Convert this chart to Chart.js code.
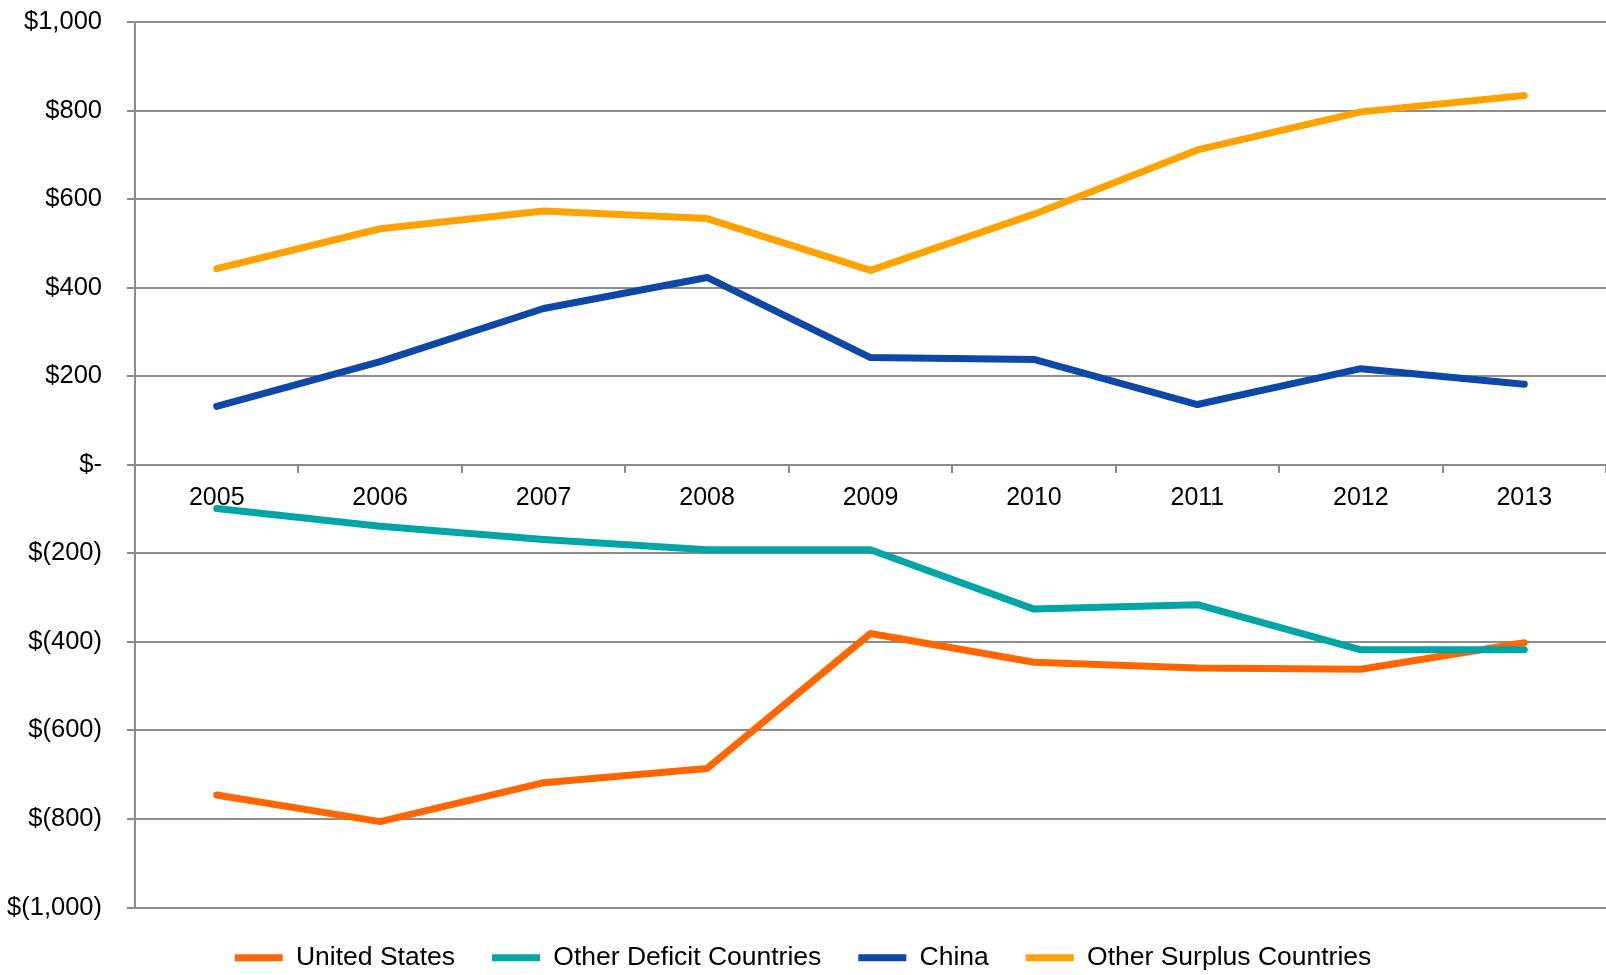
<!DOCTYPE html>
<html>
<head>
<meta charset="utf-8">
<script src="https://cdn.jsdelivr.net/npm/chart.js@4.4.1/dist/chart.umd.min.js"></script>
<style>
html,body{margin:0;padding:0;background:#fff;}
#wrap{width:1606px;height:975px;}
</style>
</head>
<body>
<div id="wrap"><canvas id="c" width="1606" height="975"></canvas></div>
<script>
const years = ['2005','2006','2007','2008','2009','2010','2011','2012','2013'];
const unitedStates = [-746, -806, -718, -686, -381, -446, -459, -462, -402];
const otherDeficit = [-99, -139, -169, -192, -192, -326, -316, -418, -418];
const china = [132, 233, 353, 423, 242, 238, 136, 217, 182];
const otherSurplus = [443, 533, 573, 556, 439, 566, 711, 797, 834];
const seriesNames = ['United States', 'Other Deficit Countries', 'China', 'Other Surplus Countries'];
const seriesColors = ['#FF6600', '#00A6A6', '#0D47A8', '#FFA200'];

function fmt(v){
  if (v === 0) return '$-';
  const s = Math.abs(v).toLocaleString('en-US');
  return v < 0 ? '$(' + s + ')' : '$' + s;
}

const FONT = "'Liberation Sans', Arial, sans-serif";
const mk = (i, data, order) => ({
  label: seriesNames[i], data, borderColor: seriesColors[i], backgroundColor: seriesColors[i],
  borderWidth: 7, pointRadius: 0, tension: 0, borderCapStyle: 'round', borderJoinStyle: 'round',
  fill: false, order, pointStyle: 'line'
});

new Chart(document.getElementById('c'), {
  type: 'line',
  data: {
    labels: years,
    datasets: [
      mk(0, unitedStates, 2),
      mk(1, otherDeficit, 1),
      mk(2, china, 3),
      mk(3, otherSurplus, 4)
    ]
  },
  options: {
    responsive: false,
    animation: false,
    devicePixelRatio: 1,
    layout: { padding: { top: 22, right: 0, left: 0, bottom: -6 } },
    plugins: {
      tooltip: { enabled: false },
      legend: {
        position: 'bottom',
        labels: {
          usePointStyle: true,
          pointStyle: 'line',
          pointStyleWidth: 48,
          padding: 37,
          color: '#000',
          font: { family: FONT, size: 26.5 },
          sort: (a, b) => a.datasetIndex - b.datasetIndex
        }
      }
    },
    scales: {
      x: {
        position: { y: 0 },
        offset: true,
        afterFit: (s) => { s.height = 0; s.paddingTop = 0; s.paddingBottom = 0; s.paddingLeft = 0; s.paddingRight = 0; },
        grid: { display: true, drawOnChartArea: false, drawTicks: true, tickLength: 8, offset: true, color: '#8c8c8c', lineWidth: 2 },
        border: { display: false },
        ticks: { color: '#000', font: { family: FONT, size: 25 }, padding: 10, maxRotation: 0 }
      },
      y: {
        min: -1000, max: 1000,
        afterFit: (s) => { s.width = 135; s.paddingTop = 0; s.paddingBottom = 0; },
        grid: { color: '#8c8c8c', lineWidth: 2, tickLength: 8 },
        border: { color: '#8c8c8c', width: 2 },
        ticks: { stepSize: 200, color: '#000', font: { family: FONT, size: 25.5 }, padding: 25, callback: (v) => fmt(v) }
      }
    }
  }
});
</script>
</body>
</html>
